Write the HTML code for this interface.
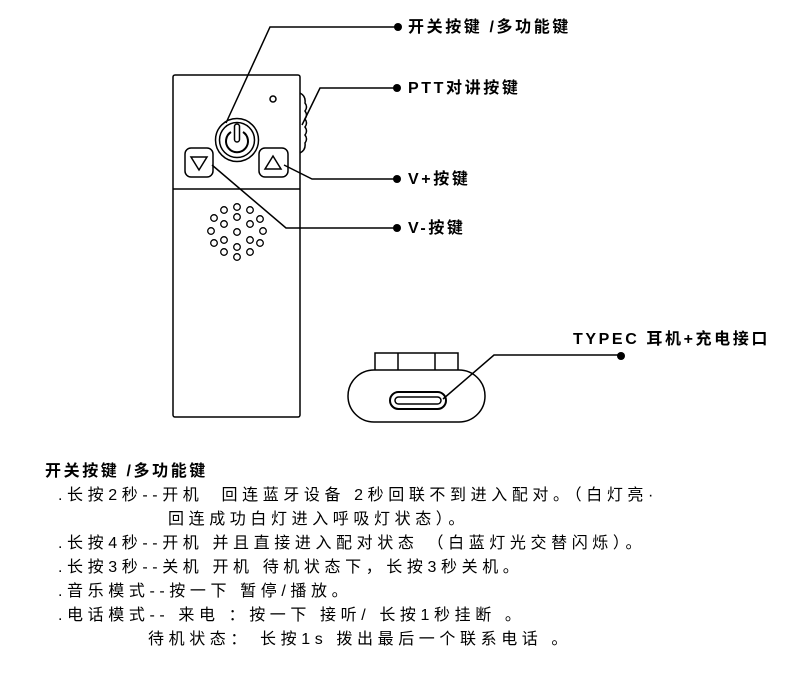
<!DOCTYPE html>
<html><head><meta charset="utf-8"><style>
body{margin:0;width:788px;height:685px;background:#fff;overflow:hidden;position:relative;font-family:"Liberation Sans","Noto Sans CJK SC",sans-serif;color:#000}
.t{position:absolute;font-size:16px;letter-spacing:4.6px;white-space:pre;line-height:20px}
.l{position:absolute;font-size:16px;letter-spacing:2.6px;font-weight:bold;white-space:pre;line-height:20px}
</style></head><body>
<svg width="788" height="440" style="position:absolute;left:0;top:0" fill="none" stroke="#000" stroke-width="1.5">
<rect x="173" y="75" width="127" height="342" rx="2"/>
<line x1="173" y1="189" x2="300" y2="189"/>
<circle cx="273" cy="99" r="3"/>
<path d="M300 93 q6 3 5 10 q3 4 0 8 q3 4 0 8 q3 4 0 8 q3 4 0 8 q3 4 0 8 q1 7-5 10"/>
<circle cx="237" cy="140" r="21.5"/>
<circle cx="237" cy="140" r="17.5"/>
<path d="M231 132 a11 11 0 1 0 12 0" stroke-width="2"/>
<rect x="234.5" y="124" width="5" height="18" rx="2.5"/>
<rect x="185" y="148" width="28" height="29" rx="6"/>
<path d="M191 157 h16 l-8 13 z"/>
<rect x="259" y="148" width="29" height="29" rx="6"/>
<path d="M265 169 h16 l-8 -13 z"/>
<g stroke-width="1.3">
<circle cx="237" cy="232" r="3.3"/>
<circle cx="237" cy="217" r="3.3"/><circle cx="237" cy="247" r="3.3"/>
<circle cx="224" cy="224" r="3.3"/><circle cx="250" cy="224" r="3.3"/>
<circle cx="224" cy="240" r="3.3"/><circle cx="250" cy="240" r="3.3"/>
<circle cx="237" cy="207" r="3.3"/><circle cx="224" cy="210" r="3.3"/><circle cx="250" cy="210" r="3.3"/>
<circle cx="214" cy="218" r="3.3"/><circle cx="260" cy="219" r="3.3"/>
<circle cx="211" cy="231" r="3.3"/><circle cx="263" cy="231" r="3.3"/>
<circle cx="214" cy="243" r="3.3"/><circle cx="260" cy="243" r="3.3"/>
<circle cx="224" cy="252" r="3.3"/><circle cx="250" cy="252" r="3.3"/><circle cx="237" cy="257" r="3.3"/>
</g>
<polyline points="226,123 270,27 398,27"/>
<polyline points="302,125 320,88 397,88"/>
<polyline points="284,165 312,179 397,179"/>
<polyline points="212,165 286,228 397,228"/>
<rect x="375" y="353" width="83" height="19"/>
<line x1="398" y1="353" x2="398" y2="372"/><line x1="435" y1="353" x2="435" y2="372"/>
<rect x="348" y="370" width="137" height="52" rx="26" fill="#fff"/>
<rect x="390" y="392" width="56" height="17" rx="8.5" stroke-width="2"/>
<rect x="395" y="397" width="46" height="7" rx="3.5" stroke-width="1.5"/>
<polyline points="443,399 494,355 621,355"/>
<g fill="#000" stroke="none">
<circle cx="398" cy="27" r="4"/><circle cx="397" cy="88" r="4"/><circle cx="397" cy="179" r="4"/><circle cx="397" cy="228" r="4"/><circle cx="621" cy="356" r="4"/>
</g>
</svg>
<div class="l" style="left:408px;top:18px">开关按键 /多功能键</div>
<div class="l" style="left:408px;top:79px">PTT对讲按键</div>
<div class="l" style="left:408px;top:170px">V+按键</div>
<div class="l" style="left:408px;top:219px">V-按键</div>
<div class="l" style="left:573px;top:330px">TYPEC 耳机+充电接口</div>
<div class="l" style="left:45px;top:462px">开关按键 /多功能键</div>
<div class="t" style="left:58px;top:486px">.长按2秒--开机  回连蓝牙设备 2秒回联不到进入配对。（白灯亮·</div>
<div class="t" style="left:168px;top:510px">回连成功白灯进入呼吸灯状态）。</div>
<div class="t" style="left:58px;top:534px">.长按4秒--开机 并且直接进入配对状态 （白蓝灯光交替闪烁）。</div>
<div class="t" style="left:58px;top:558px">.长按3秒--关机 开机 待机状态下，长按3秒关机。</div>
<div class="t" style="left:58px;top:582px">.音乐模式--按一下 暂停/播放。</div>
<div class="t" style="left:58px;top:606px">.电话模式-- 来电 ：按一下 接听/ 长按1秒挂断 。</div>
<div class="t" style="left:148px;top:630px">待机状态： 长按1s 拨出最后一个联系电话 。</div>
</body></html>
